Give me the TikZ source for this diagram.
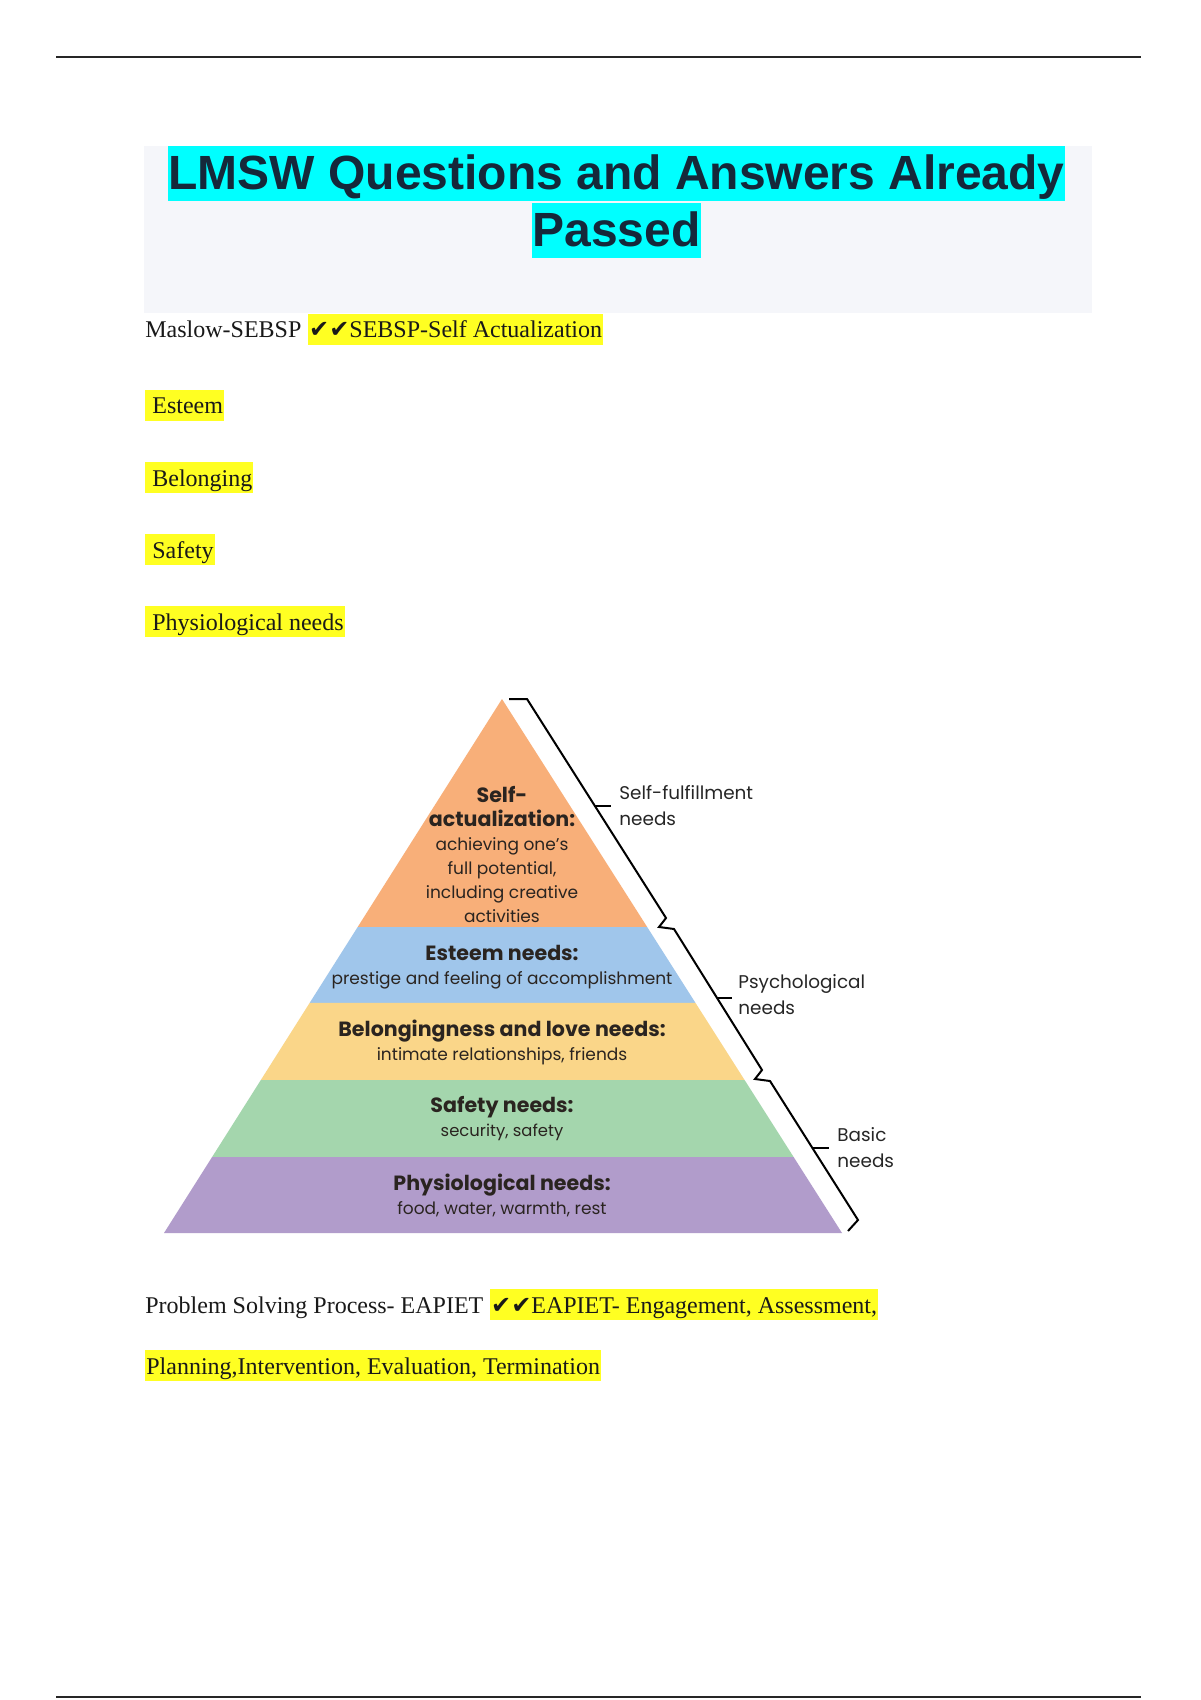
\documentclass[tikz,border=0pt]{standalone}
\usepackage{fontspec}
\setmainfont{Liberation Serif}
\newfontfamily\titlefont{Liberation Sans}
\newfontfamily\pyrfont{Poppins}
\newfontfamily\symfont{DejaVu Sans}
\usetikzlibrary{calc}

\definecolor{titleink}{HTML}{15283A}
\definecolor{titlebg}{HTML}{F5F6FA}
\definecolor{hlcyan}{HTML}{00FFFF}
\definecolor{hlyellow}{HTML}{FFFF22}
\definecolor{selfcol}{HTML}{F8AF79}
\definecolor{esteemcol}{HTML}{A0C6EB}
\definecolor{belongcol}{HTML}{FAD689}
\definecolor{safetycol}{HTML}{A4D6AD}
\definecolor{physcol}{HTML}{B19CCB}
\definecolor{pyrink}{HTML}{2A2420}

\newcommand{\chk}{{\symfont ✔✔}}

\tikzset{
  body/.style={inner sep=0pt, anchor=base west, text=black!90, font=\fontsize{12}{14}\selectfont},
  hl/.style={body, fill=hlyellow, inner xsep=0.5pt, text height=12pt, text depth=3.5pt},
  titlehl/.style={fill=hlcyan, inner xsep=0pt, inner ysep=0pt, anchor=base,
    text height=22pt, text depth=5.5pt, text=titleink,
    font=\titlefont\bfseries\fontsize{24}{28}\selectfont},
  layertxt/.style={align=center, inner sep=0pt, text=pyrink,
    font=\pyrfont\fontsize{8.5}{12}\selectfont},
  head/.style={font=\bfseries\fontsize{10.3}{12}\selectfont},
  sidetxt/.style={align=left, anchor=west, inner sep=0pt, text=black!85,
    font=\pyrfont\fontsize{9.2}{13}\selectfont},
  brace/.style={line width=1pt, line join=miter, black}
}
\newcommand{\hd}[1]{{\bfseries\fontsize{10.3}{12}\selectfont #1}}

\begin{document}
\begin{tikzpicture}[x=0.5pt, y=-0.5pt]
\useasboundingbox (0,0) rectangle (1200,1700);
\fill[white] (0,0) rectangle (1200,1700);

% page rules
\draw[line width=1.3pt, black!85] (56,57) -- (1141,57);
\draw[line width=1.3pt, black!85] (56,1697) -- (1141,1697);

% title block
\fill[titlebg] (144,146) rectangle (1092,313);
\node[titlehl] (title1) at (616.5,190) {LMSW Questions and Answers Already};
\node[titlehl] (title2) at (616.5,247) {Passed};

% Maslow answer
\node[body] (maslow) at (145,338) {Maslow-SEBSP};
\node[hl] (maslowhl) at ([xshift=3pt]maslow.base east) {\chk SEBSP-Self Actualization};
\node[hl] (esteem) at (145,414) {\ Esteem};
\node[hl] (belong) at (145,486) {\ Belonging};
\node[hl] (safety) at (145,558) {\ Safety};
\node[hl] (physio) at (145,630) {\ Physiological needs};

% pyramid
\coordinate (apex) at (502,699);
\coordinate (bl) at (164,1233);
\coordinate (br) at (842,1233);
\foreach \ta/\tb/\col in {0/0.427/selfcol, 0.427/0.569/esteemcol,
    0.569/0.7135/belongcol, 0.7135/0.858/safetycol, 0.858/1/physcol}
  \fill[\col] ($(apex)!\ta!(bl)$) -- ($(apex)!\tb!(bl)$)
    -- ($(apex)!\tb!(br)$) -- ($(apex)!\ta!(br)$) -- cycle;

\node[layertxt] (selftxt) at (502,854) {\hd{Self-}\\\hd{actualization:}\\achieving one’s\\full potential,\\including creative\\activities};
\node[layertxt] (esteemtxt) at (502,967) {\hd{Esteem needs:}\\prestige and feeling of accomplishment};
\node[layertxt] (belongtxt) at (502,1042) {\hd{Belongingness and love needs:}\\intimate relationships, friends};
\node[layertxt] (safetytxt) at (502,1119) {\hd{Safety needs:}\\{\fontsize{8.2}{12}\selectfont security, safety}};
\node[layertxt] (phystxt) at (502,1195) {\hd{Physiological needs:}\\food, water, warmth, rest};

% brace along the right side
\coordinate (b0) at (509,699);
\coordinate (b1) at (527,699);
\coordinate (p1) at (666,918);
\coordinate (q1) at (659,927);
\coordinate (r1) at (674,929);
\coordinate (p2) at (762,1070);
\coordinate (q2) at (755,1079);
\coordinate (r2) at (770,1081);
\coordinate (b2) at (858,1220);
\coordinate (b3) at (848,1231);
\draw[brace] (b0) -- (b1) -- (p1) -- (q1) -- (r1) -- (p2) -- (q2) -- (r2) -- (b2) -- (b3);

\coordinate (t1) at (595,806);
\coordinate (t2) at (717,998);
\coordinate (t3) at (812,1148);
\draw[brace] (t1) -- ++(16,0);
\draw[brace] (t2) -- ++(15,0);
\draw[brace] (t3) -- ++(17,0);

\node[sidetxt] (selflbl) at (619,806) {Self-fulfillment\\needs};
\node[sidetxt] (psychlbl) at (738,995) {Psychological\\needs};
\node[sidetxt] (basiclbl) at (837,1148) {Basic\\needs};

% problem solving answer
\node[body] (eapiet) at (145,1313) {Problem Solving Process- EAPIET};
\node[hl] (eapiethl) at ([xshift=3pt]eapiet.base east) {\chk EAPIET- Engagement, Assessment,};
\node[hl] (eapiet2) at (145,1374) {Planning,Intervention, Evaluation, Termination};
\end{tikzpicture}
\end{document}
